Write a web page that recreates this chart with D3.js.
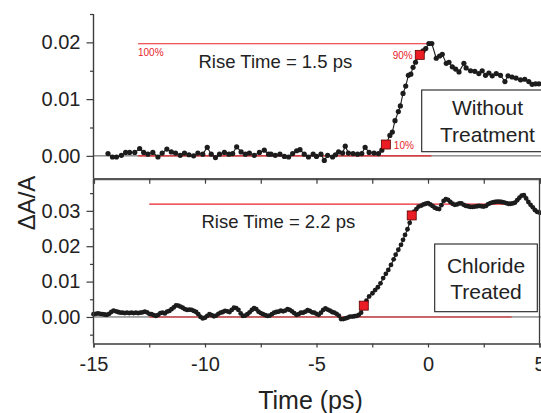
<!DOCTYPE html>
<html><head><meta charset="utf-8">
<script src="https://cdn.jsdelivr.net/npm/d3@7"></script>
<style>body{margin:0;background:#fff}svg{display:block;font-family:"Liberation Sans",Arial,Helvetica,sans-serif}</style>
</head><body><svg id="c" width="541" height="413"></svg>
<script>
// ---- Data: top panel (Without Treatment) ----
const topTime = [
 -14.35,-14.15,-13.97,-13.75,-13.56,-13.38,-13.15,-12.93,-12.75,-12.56,
 -12.34,-12.11,-11.92,-11.71,-11.51,-11.32,-11.11,-10.92,-10.72,-10.51,
 -10.32,-10.10,-9.90,-9.72,-9.53,-9.35,-9.13,-8.93,-8.76,-8.58,
 -8.38,-8.19,-8.01,-7.79,-7.56,-7.34,-7.15,-7.04,-6.85,-6.64,
 -6.44,-6.25,-6.07,-5.89,-5.74,-5.55,-5.36,-5.15,-5.00,-4.80,
 -4.65,-4.50,-4.28,-4.15,-4.01,-3.83,-3.71,-3.57,-3.36,-3.16,
 -2.97,-2.82,-2.64,-2.42,-2.22,-2.07,-1.89,-1.71,-1.60,-1.48,
 -1.33,-1.24,-1.12,-1.00,-0.88,-0.77,-0.67,-0.56,-0.37,-0.22,
 -0.10,0.04,0.17,0.37,0.52,0.64,0.82,0.94,1.09,1.24,
 1.39,1.61,1.71,1.91,2.10,2.28,2.43,2.58,2.73,2.88,
 3.06,3.25,3.45,3.59,3.77,3.95,4.15,4.34,4.52,4.67,
 4.82,4.97];
const topSignal = [
 0.0004,-0.0002,-0.0002,0.0001,0.0006,0.0006,0.0006,0.0013,0.0006,0.0003,
 0.0006,-0.0002,0.0005,0.0012,0.0007,0.0005,0.0001,0.0005,0.0002,0.0000,
 0.0005,0.0003,0.0015,0.0003,-0.0003,0.0003,0.0006,0.0003,0.0004,0.0016,
 0.0007,0.0003,0.0005,0.0001,0.0006,0.0010,0.0003,0.0003,0.0001,0.0003,
 -0.0001,-0.0002,0.0004,0.0009,0.0011,0.0003,-0.0002,0.0003,-0.0001,0.0003,
 -0.0008,0.0001,-0.0002,0.0002,0.0007,0.0005,0.0017,0.0005,0.0004,0.0003,
 0.0004,0.0015,0.0006,0.0005,0.0004,0.0010,0.0020,0.0036,0.0042,0.0062,
 0.0078,0.0088,0.0110,0.0123,0.0142,0.0144,0.0156,0.0165,0.0178,0.0185,
 0.0189,0.0198,0.0198,0.0172,0.0176,0.0179,0.0163,0.0165,0.0157,0.0153,
 0.0148,0.0163,0.0155,0.0150,0.0149,0.0145,0.0150,0.0142,0.0146,0.0141,
 0.0145,0.0142,0.0131,0.0141,0.0139,0.0137,0.0134,0.0135,0.0131,0.0126,
 0.0127,0.0127];
const topMarkTime = [-1.89, -0.37];
const topMarkSignal = [0.0020, 0.0178];
const topLevels = [0, 0.01975];           // 0% and 100% reference lines
const topLevelSpan = [-13.0, 0.15];

// ---- Data: bottom panel (Chloride Treated) ----
const botTime = [
 -15.0,-14.9,-14.8,-14.7,-14.6,-14.5,-14.4,-14.3,-14.2,-14.1,
 -14.0,-13.9,-13.8,-13.7,-13.6,-13.5,-13.4,-13.3,-13.2,-13.1,
 -13.0,-12.9,-12.8,-12.7,-12.6,-12.5,-12.4,-12.3,-12.2,-12.1,
 -12.0,-11.9,-11.8,-11.7,-11.6,-11.5,-11.4,-11.3,-11.2,-11.1,
 -11.0,-10.9,-10.8,-10.7,-10.6,-10.5,-10.4,-10.3,-10.2,-10.1,
 -10.0,-9.9,-9.8,-9.7,-9.6,-9.5,-9.4,-9.3,-9.2,-9.1,
 -9.0,-8.9,-8.8,-8.7,-8.6,-8.5,-8.4,-8.3,-8.2,-8.1,
 -8.0,-7.9,-7.8,-7.7,-7.6,-7.5,-7.4,-7.3,-7.2,-7.1,
 -7.0,-6.9,-6.8,-6.7,-6.6,-6.5,-6.4,-6.3,-6.2,-6.1,
 -6.0,-5.9,-5.8,-5.7,-5.6,-5.5,-5.4,-5.3,-5.2,-5.1,
 -5.0,-4.9,-4.8,-4.7,-4.6,-4.5,-4.4,-4.3,-4.2,-4.1,
 -4.0,-3.9,-3.8,-3.7,-3.6,-3.5,-3.4,-3.3,-3.2,-3.1,
 -3.0,-2.88,-2.76,-2.64,-2.49,-2.37,-2.25,-2.13,-2.01,-1.89,
 -1.78,-1.66,-1.54,-1.45,-1.33,-1.21,-1.12,-1.03,-0.92,-0.82,
 -0.73,-0.62,-0.52,-0.42,-0.3,-0.2,-0.1,0.0,0.1,0.2,
 0.3,0.4,0.5,0.6,0.7,0.8,0.9,1.0,1.1,1.2,
 1.3,1.4,1.5,1.6,1.7,1.8,1.9,2.0,2.1,2.2,
 2.3,2.4,2.5,2.6,2.7,2.8,2.9,3.0,3.1,3.2,
 3.3,3.4,3.5,3.6,3.7,3.8,3.9,4.0,4.1,4.2,
 4.3,4.4,4.5,4.6,4.7,4.8,4.9,5.0];
const botSignal = [
 0.0008,0.0009,0.0010,0.0009,0.0008,0.0007,0.0006,0.0009,0.0014,0.0018,
 0.0016,0.0014,0.0012,0.0012,0.0011,0.0012,0.0011,0.0012,0.0011,0.0012,
 0.0011,0.0012,0.0013,0.0015,0.0013,0.0009,0.0008,0.0005,0.0003,0.0006,
 0.0011,0.0012,0.0010,0.0015,0.0017,0.0022,0.0027,0.0033,0.0032,0.0029,
 0.0026,0.0022,0.0020,0.0021,0.0020,0.0017,0.0014,0.0008,0.0000,-0.0004,
 -0.0002,0.0003,0.0008,0.0005,0.0002,0.0004,0.0009,0.0012,0.0014,0.0017,
 0.0016,0.0014,0.0020,0.0026,0.0025,0.0020,0.0010,0.0003,0.0004,0.0008,
 0.0013,0.0020,0.0025,0.0022,0.0015,0.0011,0.0008,0.0005,0.0003,0.0004,
 0.0008,0.0012,0.0014,0.0015,0.0018,0.0016,0.0018,0.0022,0.0020,0.0016,
 0.0011,0.0006,0.0008,0.0012,0.0012,0.0015,0.0019,0.0017,0.0013,0.0012,
 0.0009,0.0006,0.0012,0.0020,0.0024,0.0021,0.0018,0.0014,0.0012,0.0009,
 0.0004,-0.0006,-0.0006,-0.0004,-0.0002,0.0001,0.0001,0.0002,0.0003,0.0006,
 0.0012,0.0032,0.0046,0.0058,0.0067,0.0076,0.0084,0.0095,0.0110,0.0122,
 0.0133,0.0147,0.0163,0.0176,0.0190,0.0204,0.0218,0.0232,0.0248,0.0266,
 0.0287,0.0298,0.0305,0.0312,0.0315,0.0318,0.0320,0.0322,0.0318,0.0314,
 0.0309,0.0306,0.0305,0.0316,0.0328,0.0333,0.0331,0.0325,0.0320,0.0317,
 0.0318,0.0321,0.0321,0.0317,0.0314,0.0313,0.0311,0.0311,0.0312,0.0313,
 0.0314,0.0313,0.0312,0.0314,0.0319,0.0322,0.0324,0.0325,0.0326,0.0326,
 0.0325,0.0324,0.0322,0.0320,0.0320,0.0321,0.0323,0.0330,0.0337,0.0343,
 0.0344,0.0335,0.0325,0.0317,0.0310,0.0302,0.0297,0.0295];
const botMarkTime = [-2.88, -0.73];
const botMarkSignal = [0.0032, 0.0287];
const botLevels = [0, 0.0319];
const botLevelSpan = [-12.5, 3.75];

// ---- Tick values / labels ----
const xTicks = [-15, -12.5, -10, -7.5, -5, -2.5, 0, 2.5, 5];
const xTickLabels = [-15, -10, -5, 0, 5];
const topYTicks = [0.00, 0.01, 0.02];
const topYMinor = [0.005, 0.015, 0.025];
const botYTicks = [0.00, 0.01, 0.02, 0.03];
const botYMinor = [-0.005, 0.005, 0.015, 0.025, 0.035];
const topTexts = {rise: "Rise Time = 1.5 ps", box: ["Without", "Treatment"], p100: "100%", p90: "90%", p10: "10%"};
const botTexts = {rise: "Rise Time = 2.2 ps", box: ["Chloride", "Treated"]};

// ---- Drawing ----
const svg = d3.select("#c");
const X0 = 93.5, X1 = 539.5;
const x = d3.scaleLinear().domain([-15, 5]).range([X0, X1]);
const yTop = d3.scaleLinear().domain([-0.0039, 0.025]).range([178, 14]);
const yBot = d3.scaleLinear().domain([-0.0075, 0.039]).range([343.5, 179]);
const RED = "#e8232b", AX = "#3c3c3c", DOT = "#1c1c1c";

function panel(y, T, V, mT, mV, levels, span, minorY, majorY, r) {
  const g = svg.append("g");
  g.append("line").attr("x1", X0).attr("x2", X1 + 5)
    .attr("y1", y(0)).attr("y2", y(0)).attr("stroke", "#555").attr("stroke-width", 1);
  levels.forEach(l => g.append("line")
    .attr("x1", x(span[0])).attr("x2", x(span[1]))
    .attr("y1", y(l)).attr("y2", y(l)).attr("stroke", RED).attr("stroke-width", 1.1));
  const pts = T.map((t, i) => [t, V[i]]);
  g.append("path").datum(pts)
    .attr("d", d3.line().x(d => x(d[0])).y(d => y(d[1])))
    .attr("fill", "none").attr("stroke", DOT).attr("stroke-width", 1.1);
  g.selectAll("circle.d").data(pts).join("circle").attr("class", "d")
    .attr("cx", d => x(d[0])).attr("cy", d => y(d[1])).attr("r", r).attr("fill", DOT);
  const mk = mT.map((t, i) => [t, mV[i]]);
  g.selectAll("rect.m").data(mk).join("rect").attr("class", "m")
    .attr("x", d => x(d[0]) - 4.5).attr("y", d => y(d[1]) - 4.5)
    .attr("width", 9).attr("height", 9)
    .attr("fill", "#ec1c24").attr("stroke", "#5a0000").attr("stroke-width", 0.8);
  const ya = g.append("g").attr("transform", `translate(${X0},0)`)
    .call(d3.axisLeft(y).tickValues(majorY).tickFormat(d3.format(".2f")).tickSize(7).tickPadding(6));
  const ym = g.append("g").attr("transform", `translate(${X0},0)`)
    .call(d3.axisLeft(y).tickValues(minorY).tickFormat("").tickSize(3.5));
  [ya, ym].forEach(a => {
    a.select(".domain").remove();
    a.selectAll("line").attr("stroke", AX).attr("stroke-width", 1.2);
    a.selectAll("text").attr("font-size", 20).attr("fill", "#222")
      .attr("font-family", '"Liberation Sans",Arial,sans-serif');
  });
  g.append("line").attr("x1", X0).attr("x2", X0)
    .attr("y1", y.range()[1]).attr("y2", y.range()[0]).attr("stroke", AX).attr("stroke-width", 1.4);
  return g;
}

panel(yTop, topTime, topSignal, topMarkTime, topMarkSignal, topLevels, topLevelSpan, topYMinor, topYTicks, 2.6);
panel(yBot, botTime, botSignal, botMarkTime, botMarkSignal, botLevels, botLevelSpan, botYMinor, botYTicks, 2.4);

svg.append("line").attr("x1", X1).attr("x2", X1).attr("y1", 179).attr("y2", 343.5)
  .attr("stroke", AX).attr("stroke-width", 1.3);

const mid = svg.append("g").attr("transform", "translate(0,178.7)")
  .call(d3.axisBottom(x).tickValues(xTicks).tickFormat("").tickSize(5));
mid.select(".domain").attr("stroke", "#555").attr("stroke-width", 2.2);
mid.selectAll("line").attr("stroke", AX).attr("stroke-width", 1.2);

const xb = svg.append("g").attr("transform", "translate(0,343.5)")
  .call(d3.axisBottom(x).tickValues(xTicks)
    .tickFormat(d => xTickLabels.includes(d) ? String(d) : "").tickSize(4).tickPadding(9));
xb.select(".domain").attr("stroke", AX).attr("stroke-width", 1.4);
xb.selectAll("line").attr("stroke", AX).attr("stroke-width", 1.2);
xb.selectAll("text").attr("font-size", 20).attr("fill", "#222")
  .attr("font-family", '"Liberation Sans",Arial,sans-serif');

svg.append("text").attr("x", 138).attr("y", 55.5).attr("font-size", 10).attr("fill", RED).text(topTexts.p100);
svg.append("text").attr("x", x(topMarkTime[1]) - 7).attr("y", 58.5).attr("text-anchor", "end")
  .attr("font-size", 10).attr("fill", RED).text(topTexts.p90);
svg.append("text").attr("x", x(topMarkTime[0]) + 8).attr("y", 149).attr("font-size", 10).attr("fill", RED).text(topTexts.p10);

svg.append("text").attr("x", 198.5).attr("y", 68.3).attr("font-size", 18.5).attr("fill", "#222").text(topTexts.rise);
svg.append("text").attr("x", 201.5).attr("y", 228.3).attr("font-size", 18.5).attr("fill", "#222").text(botTexts.rise);

function box(x0, y0, w, h, lines, ys, cx) {
  svg.append("rect").attr("x", x0).attr("y", y0).attr("width", w).attr("height", h)
    .attr("fill", "#fff").attr("stroke", "#222").attr("stroke-width", 1.1);
  lines.forEach((s, i) => svg.append("text").attr("x", cx).attr("y", ys[i])
    .attr("text-anchor", "middle").attr("font-size", 21).attr("fill", "#222").text(s));
}
box(421.7, 90, 130, 61.7, topTexts.box, [115, 141.5], 487.5);
box(434.7, 244, 102.6, 67.7, botTexts.box, [272.7, 299], 486);

svg.append("text").attr("transform", "translate(35,203) rotate(-90)")
  .attr("text-anchor", "middle").attr("font-size", 24).attr("fill", "#222").text("ΔA/A");
svg.append("text").attr("x", 310.5).attr("y", 409).attr("text-anchor", "middle")
  .attr("font-size", 25).attr("fill", "#222").text("Time (ps)");
</script></body></html>
